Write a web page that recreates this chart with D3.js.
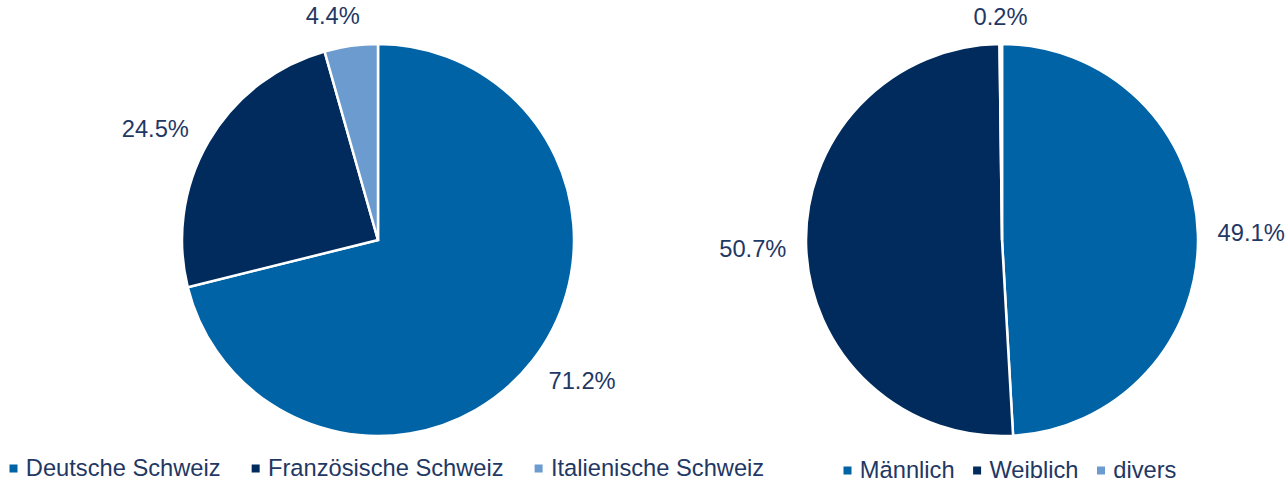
<!DOCTYPE html>
<html>
<head>
<meta charset="utf-8">
<script src="https://cdn.jsdelivr.net/npm/d3@7"></script>
<style>
  html, body { margin: 0; padding: 0; background: #ffffff; }
  svg { display: block; }
  text { font-family: "Liberation Sans", Arial, sans-serif; fill: #1F3864; }
</style>
</head>
<body>
<svg id="chart" width="1285" height="482"></svg>
<script>
// ---- data ----
const regionCategories = ["Deutsche Schweiz", "Französische Schweiz", "Italienische Schweiz"];
const regionValues = [71.2, 24.5, 4.4];
const genderCategories = ["Männlich", "Weiblich", "divers"];
const genderValues = [49.1, 50.7, 0.2];
const sliceColors = ["#0063A6", "#002B5C", "#6B9BCF"];

const svg = d3.select("#chart");
const fmt = v => d3.format(".1f")(v) + "%";
const FS = 23.7;

function drawPie(cfg) {
  const data = cfg.categories.map((c, i) => ({ name: c, value: cfg.values[i], color: sliceColors[i] }));
  const pie = d3.pie().sort(null).value(d => d.value);
  const arcs = pie(data);
  const arc = d3.arc().innerRadius(0).outerRadius(cfg.r);
  const g = svg.append("g").attr("transform", `translate(${cfg.cx},${cfg.cy})`);

  g.selectAll("path.slice").data(arcs).enter().append("path")
    .attr("class", "slice")
    .attr("d", arc)
    .attr("fill", d => d.data.color)
    .attr("stroke", "#ffffff")
    .attr("stroke-width", 2.5)
    .attr("stroke-linejoin", "miter");

  // value labels outside end
  const labels = g.selectAll("text.lbl").data(arcs).enter().append("text")
    .attr("class", "lbl")
    .attr("text-anchor", "middle")
    .attr("font-size", FS)
    .text(d => fmt(d.data.value));
  labels.each(function(d) {
    const w = this.getComputedTextLength();
    const h = 16;
    const a = (d.startAngle + d.endAngle) / 2 + cfg.labelShift * Math.PI / 180;
    const s = Math.sin(a), c = -Math.cos(a);
    const dist = cfg.r + cfg.pad + Math.abs(s) * w / 2 + Math.abs(c) * h / 2;
    d3.select(this)
      .attr("x", s * dist)
      .attr("y", c * dist + 0.358 * FS);
  });

  // legend
  const lg = svg.append("g").attr("transform", `translate(0,${cfg.legendY})`);
  let x = cfg.legendX;
  data.forEach(d => {
    lg.append("rect")
      .attr("x", x).attr("y", -11.5)
      .attr("width", 8).attr("height", 8)
      .attr("fill", d.color);
    const t = lg.append("text")
      .attr("x", x + 16.3).attr("y", 0)
      .attr("font-size", FS)
      .text(d.name);
    x += 16.3 + t.node().getComputedTextLength() + cfg.legendGap;
  });
}

drawPie({ categories: regionCategories, values: regionValues, cx: 378, cy: 240, r: 196, pad: 19.5,
          labelShift: -3.5, legendX: 9.5, legendY: 476, legendGap: 31 });
drawPie({ categories: genderCategories, values: genderValues, cx: 1002, cy: 240, r: 196, pad: 19.5,
          labelShift: 0, legendX: 843.5, legendY: 478, legendGap: 18.5 });
</script>
</body>
</html>
